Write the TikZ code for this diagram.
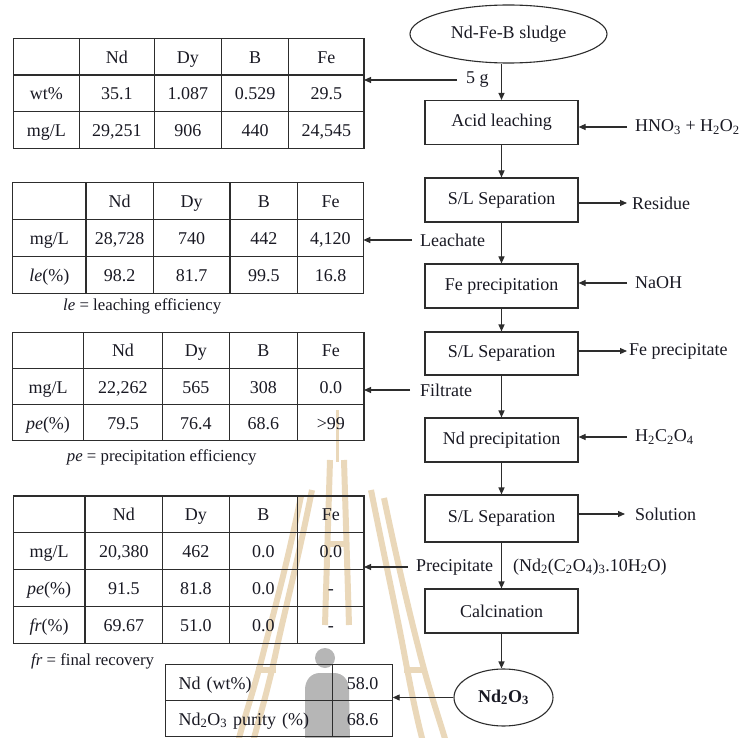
\documentclass[tikz,border=0pt]{standalone}
\usepackage{fontspec}
\setmainfont{Liberation Serif}
\usetikzlibrary{matrix,shapes.geometric,arrows.meta}

\definecolor{ink}{RGB}{25,25,35}
\definecolor{linec}{RGB}{45,45,45}
\definecolor{wmtan}{RGB}{234,216,186}
\definecolor{wmgrey}{RGB}{182,182,182}

\newcommand{\mainfs}{\fontsize{18}{21}\selectfont}
\newcommand{\notefs}{\fontsize{16.8}{20}\selectfont}

\tikzset{
  stepbox/.style={draw=linec, line width=1.1pt, minimum width=153pt, minimum height=44pt,
    inner sep=0pt, font=\mainfs},
  oval/.style={ellipse, draw=linec, line width=1.1pt, inner sep=0pt, font=\mainfs},
  lab/.style={font=\mainfs, inner sep=0pt, anchor=west},
  note/.style={font=\notefs, inner sep=0pt, anchor=west},
  arr/.style={draw=linec, line width=1.1pt, -{Triangle[length=7pt,width=6pt]}},
  gridline/.style={draw=linec, line width=1.1pt},
  datatable/.style={matrix of nodes, nodes in empty cells, anchor=north west,
    inner sep=0pt, outer sep=0pt, column sep=0pt, row sep=0pt,
    nodes={inner sep=0pt, outer sep=0pt, text height=15pt,
      text depth=2pt, font=\mainfs, anchor=center}},
  wmline/.style={draw=wmtan, line width=6pt},
}

% outline plus inner rules of a table matrix: name, column rules, row rules
\newcommand{\tablegrid}[3]{%
  \draw[gridline] (#1.north west) rectangle (#1.south east);
  \foreach \j in {#2} \draw[gridline] (#1-1-\j.north east) -- (#1-1-\j.north east |- #1.south);
  \foreach \i in {#3} \draw[gridline] (#1-\i-1.south west) -- (#1-\i-1.south west -| #1.east);
}

\begin{document}
\begin{tikzpicture}[x=1pt, y=-1pt, every node/.append style={text=ink}]
\useasboundingbox (0,0) rectangle (742,738);

% faint emblem behind the lower tables
\draw[draw=wmtan, line width=3pt] (337,410) -- (337,462);
\draw[wmline] (330,460) -- (325,625);
\draw[wmline] (344,460) -- (349,625);
\draw[wmline] (327,544) -- (347,544);
\draw[wmline] (312,490) .. controls (298,560) and (285,610) .. (277,647) .. controls (268,690) and (260,715) .. (253,742);
\draw[wmline] (301,496) .. controls (287,565) and (273,615) .. (264,650) .. controls (254,690) and (245,715) .. (238,742);
\draw[wmline] (371,490) .. controls (385,560) and (396,610) .. (403,647) .. controls (411,690) and (416,715) .. (423,742);
\draw[wmline] (384,498) .. controls (398,565) and (410,615) .. (419,650) .. controls (429,690) and (438,715) .. (446,742);
\draw[wmline] (256,670) -- (276,670);
\draw[wmline] (404,670) -- (424,670);
\fill[wmgrey] (325,658) circle (10);
\fill[wmgrey] (305,742) -- (305,690) .. controls (305,680) and (311,673) .. (320,673)
  -- (334,673) .. controls (343,673) and (349,680) .. (349,690) -- (350,742) -- cycle;

% process steps
\node[oval, minimum width=197pt, minimum height=58pt] (sludge) at (508.5,34) {Nd-Fe-B sludge};
\node[stepbox] (acid) at (501.5,122.5) {Acid leaching};
\node[stepbox] (sep1) at (501.5,200) {S/L Separation};
\node[stepbox] (feppt) at (501.5,286) {Fe precipitation};
\node[stepbox, minimum height=43pt] (sep2) at (501.5,353.5) {S/L Separation};
\node[stepbox] (ndppt) at (501.5,440) {Nd precipitation};
\node[stepbox, minimum height=47pt] (sep3) at (501.5,518.5) {S/L Separation};
\node[stepbox] (calc) at (501.5,611) {Calcination};
\node[oval, minimum width=99pt, minimum height=57pt, font=\mainfs\bfseries] (oxide)
  at (503.5,697.5) {Nd\textsubscript{2}O\textsubscript{3}};

\draw[arr] (acid.north |- sludge.south) -- (acid.north);
\draw[arr] (acid.south) -- (sep1.north);
\draw[arr] (sep1.south) -- (feppt.north);
\draw[arr] (feppt.south) -- (sep2.north);
\draw[arr] (sep2.south) -- (ndppt.north);
\draw[arr] (ndppt.south) -- (sep3.north);
\draw[arr] (sep3.south) -- (calc.north);
\draw[arr] (calc.south) -- (calc.south |- oxide.north);

% reagents and outputs on the right
\node[lab] (hno) at (635,127) {HNO\textsubscript{3} + H\textsubscript{2}O\textsubscript{2}};
\draw[arr] ([xshift=-8pt]hno.west) -- (acid.east |- hno.west);
\node[lab] (res) at (632,203) {Residue};
\draw[arr] (sep1.east |- res.west) -- ([xshift=-5pt]res.west);
\node[lab] (naoh) at (635,283) {NaOH};
\draw[arr] ([xshift=-8pt]naoh.west) -- (feppt.east |- naoh.west);
\node[lab] (fep) at (629,351) {Fe precipitate};
\draw[arr] (sep2.east |- fep.west) -- ([xshift=-2pt]fep.west);
\node[lab] (oxa) at (635,437) {H\textsubscript{2}C\textsubscript{2}O\textsubscript{4}};
\draw[arr] ([xshift=-8pt]oxa.west) -- (ndppt.east |- oxa.west);
\node[lab] (sol) at (635,514) {Solution};
\draw[arr] (sep3.east |- sol.west) -- ([xshift=-10pt]sol.west);
\node[lab] (form) at (513,567) {(Nd\textsubscript{2}(C\textsubscript{2}O\textsubscript{4})\textsubscript{3}.10H\textsubscript{2}O)};

% composition tables
\matrix (t1) [datatable,
  column 1/.style={nodes={minimum width=66pt}},
  column 2/.style={nodes={minimum width=75pt}},
  column 3/.style={nodes={minimum width=67.4pt}},
  column 4/.style={nodes={minimum width=67pt}},
  column 5/.style={nodes={minimum width=75.3pt}},
  nodes={minimum height=36.7pt}] at (13.3,38.3) {
    & Nd & Dy & B & Fe \\
  wt\% & 35.1 & 1.087 & 0.529 & 29.5 \\
  mg/L & 29,251 & 906 & 440 & 24,545 \\
};
\tablegrid{t1}{1,2,3,4}{1,2}

\matrix (t2) [datatable,
  column 1/.style={nodes={minimum width=73.3pt}},
  column 2/.style={nodes={minimum width=67.3pt}},
  column 3/.style={nodes={minimum width=76.7pt}},
  column 4/.style={nodes={minimum width=67.7pt}},
  column 5/.style={nodes={minimum width=65.6pt}},
  nodes={minimum height=36.9pt}] at (12.7,182.7) {
    & Nd & Dy & B & Fe \\
  mg/L & 28,728 & 740 & 442 & 4,120 \\
  \textit{le}(\%) & 98.2 & 81.7 & 99.5 & 16.8 \\
};
\tablegrid{t2}{1,2,3,4}{1,2}
\node[note] (n1) at (63,306.7) {\textit{le} = leaching efficiency};

\matrix (t3) [datatable,
  column 1/.style={nodes={minimum width=70.6pt}},
  column 2/.style={nodes={minimum width=79.4pt}},
  column 3/.style={nodes={minimum width=66.6pt}},
  column 4/.style={nodes={minimum width=68.4pt}},
  column 5/.style={nodes={minimum width=66.3pt}},
  nodes={minimum height=36.2pt}] at (12.7,332.3) {
    & Nd & Dy & B & Fe \\
  mg/L & 22,262 & 565 & 308 & 0.0 \\
  \textit{pe}(\%) & 79.5 & 76.4 & 68.6 & >99 \\
};
\tablegrid{t3}{1,2,3,4}{1,2}
\node[note] (n2) at (66.7,457.7) {\textit{pe} = precipitation efficiency};

\matrix (t4) [datatable,
  column 1/.style={nodes={minimum width=71.7pt}},
  column 2/.style={nodes={minimum width=77.7pt}},
  column 3/.style={nodes={minimum width=66.6pt}},
  column 4/.style={nodes={minimum width=68.4pt}},
  column 5/.style={nodes={minimum width=66.3pt}},
  nodes={minimum height=36.8pt}] at (13.3,496) {
    & Nd & Dy & B & Fe \\
  mg/L & 20,380 & 462 & 0.0 & 0.0 \\
  \textit{pe}(\%) & 91.5 & 81.8 & 0.0 & - \\
  \textit{fr}(\%) & 69.67 & 51.0 & 0.0 & - \\
};
\tablegrid{t4}{1,2,3,4}{1,2,3}
\node[note] (n3) at (31,661) {\textit{fr} = final recovery};

\matrix (t5) [datatable,
  column 1/.style={nodes={minimum width=167.2pt, text width=141pt, inner xsep=13pt, align=left}},
  column 2/.style={nodes={minimum width=60pt}},
  nodes={minimum height=36pt}] at (165.5,664.7) {
  Nd (wt\%) & 58.0 \\
  Nd\textsubscript{2}O\textsubscript{3} purity (\%) & 68.6 \\
};
\tablegrid{t5}{1}{1}

% streams feeding the tables
\node[lab] (g5) at (466,80) {5 g};
\draw[arr] ([xshift=-9pt]g5.west) -- (t1.east |- g5.west);
\node[lab] (leach) at (420,240) {Leachate};
\draw[arr] ([xshift=-8pt]leach.west) -- (t2.east |- leach.west);
\node[lab] (filt) at (420,390) {Filtrate};
\draw[arr] ([xshift=-10pt]filt.west) -- (t3.east |- filt.west);
\node[lab] (pptl) at (416,567) {Precipitate};
\draw[arr] ([xshift=-8pt]pptl.west) -- (t4.east |- pptl.west);
\draw[arr] (oxide.west) -- (t5.east |- oxide.west);
\end{tikzpicture}
\end{document}
